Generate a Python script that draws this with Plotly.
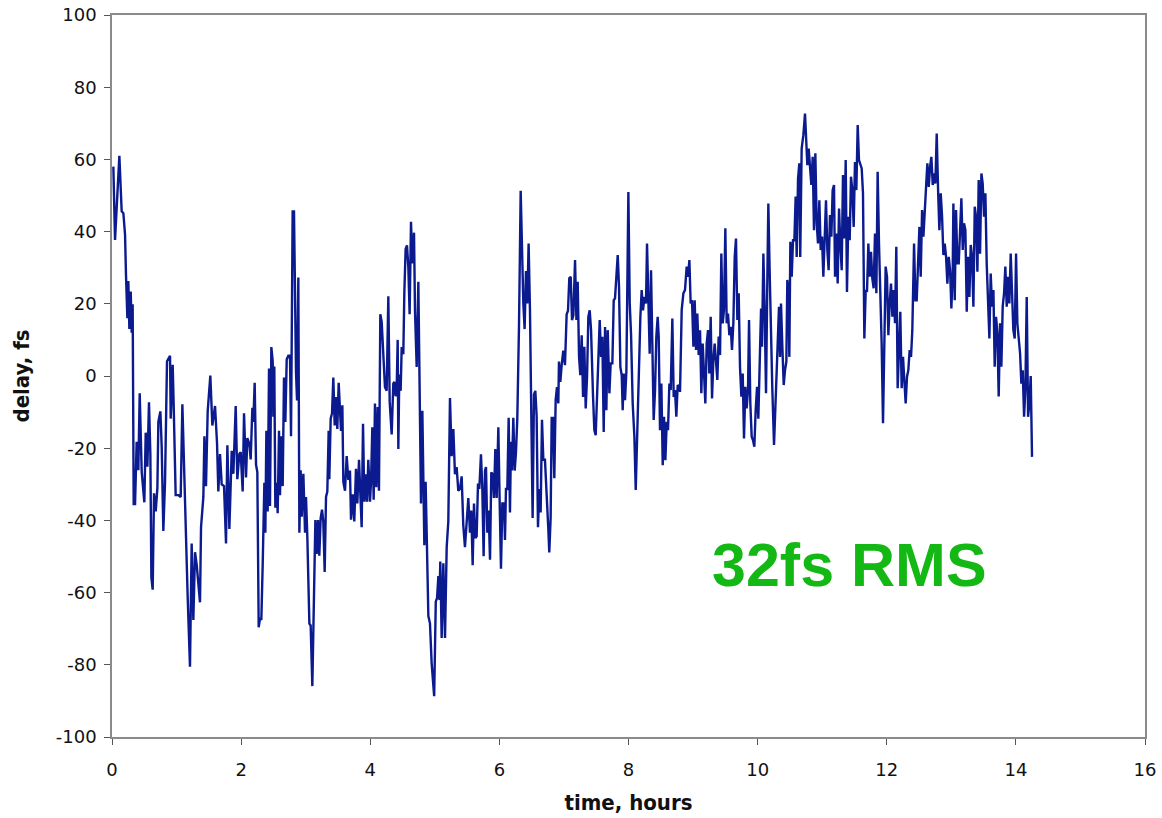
import plotly.graph_objects as go

time_h = [
 0.021,0.047,0.114,0.150,0.176,0.202,0.217,0.238,0.253,0.269,0.290,0.305,0.320,0.336,0.357,0.382,0.408,0.429,0.460,0.501,
 0.522,0.548,0.573,0.594,0.610,0.630,0.651,0.677,0.703,0.718,0.749,0.770,0.795,0.821,0.852,0.899,0.909,0.940,0.955,0.986,
 1.028,1.064,1.090,1.131,1.146,1.172,1.208,1.234,1.260,1.286,1.312,1.363,1.379,1.415,1.431,1.456,1.482,1.523,1.554,1.596,
 1.627,1.647,1.673,1.699,1.735,1.766,1.787,1.818,1.854,1.880,1.916,1.941,1.972,1.993,2.024,2.045,2.076,2.096,2.127,2.148,
 2.174,2.189,2.210,2.231,2.251,2.272,2.293,2.313,2.334,2.360,2.375,2.391,2.411,2.432,2.447,2.468,2.489,2.499,2.514,2.530,
 2.551,2.566,2.587,2.602,2.623,2.644,2.664,2.685,2.706,2.731,2.757,2.773,2.798,2.819,2.850,2.866,2.886,2.902,2.922,2.938,
 2.964,2.990,3.005,3.026,3.057,3.077,3.103,3.129,3.150,3.170,3.191,3.211,3.232,3.253,3.273,3.294,3.315,3.335,3.356,3.366,
 3.387,3.408,3.428,3.449,3.470,3.490,3.511,3.547,3.568,3.583,3.609,3.635,3.661,3.686,3.702,3.728,3.753,3.779,3.800,3.826,
 3.847,3.867,3.888,3.908,3.929,3.950,3.970,3.996,4.012,4.032,4.053,4.073,4.094,4.115,4.135,4.156,4.177,4.203,4.228,4.254,
 4.280,4.301,4.332,4.357,4.373,4.393,4.409,4.425,4.435,4.450,4.471,4.487,4.512,4.528,4.548,4.569,4.590,4.610,4.631,4.652,
 4.678,4.693,4.719,4.745,4.771,4.786,4.807,4.822,4.838,4.858,4.874,4.900,4.925,4.951,4.990,5.015,5.035,5.055,5.072,5.085,
 5.106,5.132,5.158,5.184,5.209,5.235,5.261,5.287,5.312,5.338,5.364,5.390,5.416,5.441,5.467,5.493,5.519,5.545,5.565,5.586,
 5.607,5.627,5.648,5.669,5.689,5.715,5.736,5.756,5.777,5.793,5.813,5.834,5.855,5.875,5.896,5.916,5.937,5.958,5.984,6.004,
 6.025,6.046,6.071,6.087,6.102,6.123,6.144,6.164,6.180,6.195,6.216,6.237,6.257,6.278,6.304,6.330,6.350,6.371,6.391,6.412,
 6.433,6.453,6.474,6.495,6.515,6.536,6.557,6.577,6.598,6.619,6.639,6.660,6.681,6.706,6.732,6.758,6.773,6.794,6.810,6.830,
 6.851,6.872,6.892,6.913,6.923,6.944,6.965,6.990,7.016,7.042,7.063,7.083,7.105,7.125,7.146,7.172,7.193,7.213,7.234,7.254,
 7.275,7.296,7.316,7.337,7.358,7.378,7.399,7.420,7.451,7.471,7.492,7.513,7.533,7.554,7.575,7.595,7.616,7.637,7.657,7.678,
 7.704,7.724,7.750,7.771,7.791,7.812,7.833,7.853,7.874,7.895,7.910,7.926,7.946,7.967,7.998,8.019,8.039,8.065,8.091,8.112,
 8.132,8.163,8.184,8.204,8.225,8.246,8.271,8.287,8.308,8.328,8.349,8.370,8.390,8.411,8.431,8.452,8.468,8.488,8.509,8.530,
 8.550,8.571,8.592,8.612,8.633,8.654,8.679,8.700,8.720,8.741,8.762,8.788,8.798,8.824,8.850,8.875,8.901,8.922,8.943,8.963,
 8.984,9.005,9.025,9.046,9.066,9.087,9.108,9.128,9.149,9.170,9.190,9.211,9.232,9.252,9.273,9.294,9.314,9.335,9.356,9.376,
 9.397,9.418,9.438,9.459,9.479,9.500,9.521,9.541,9.562,9.583,9.603,9.624,9.645,9.665,9.686,9.707,9.727,9.748,9.769,9.789,
 9.810,9.830,9.851,9.867,9.887,9.908,9.929,9.949,9.970,9.991,10.011,10.032,10.053,10.068,10.089,10.109,10.130,10.151,10.166,10.187,
 10.207,10.228,10.254,10.280,10.305,10.331,10.347,10.362,10.383,10.404,10.424,10.445,10.460,10.481,10.491,10.507,10.528,10.548,10.569,10.589,
 10.605,10.626,10.646,10.660,10.682,10.708,10.734,10.755,10.770,10.791,10.811,10.832,10.853,10.873,10.894,10.915,10.935,10.956,10.977,10.997,
 11.018,11.038,11.059,11.080,11.100,11.121,11.142,11.162,11.183,11.199,11.219,11.240,11.261,11.281,11.302,11.322,11.343,11.364,11.384,11.405,
 11.426,11.446,11.467,11.488,11.508,11.529,11.550,11.570,11.591,11.612,11.632,11.653,11.674,11.694,11.715,11.736,11.756,11.777,11.797,11.818,
 11.839,11.859,11.880,11.901,11.921,11.942,11.963,11.983,12.004,12.025,12.045,12.066,12.087,12.107,12.128,12.148,12.169,12.190,12.210,12.231,
 12.252,12.272,12.293,12.314,12.334,12.355,12.376,12.396,12.423,12.444,12.464,12.485,12.506,12.526,12.547,12.568,12.588,12.609,12.629,12.650,
 12.671,12.691,12.712,12.733,12.753,12.774,12.795,12.815,12.836,12.857,12.877,12.898,12.919,12.939,12.960,12.981,13.001,13.022,13.032,13.053,
 13.073,13.094,13.115,13.135,13.156,13.177,13.197,13.218,13.239,13.259,13.280,13.301,13.321,13.342,13.363,13.383,13.404,13.424,13.445,13.466,
 13.486,13.507,13.528,13.548,13.569,13.590,13.610,13.631,13.652,13.672,13.693,13.714,13.734,13.755,13.775,13.796,13.817,13.837,13.858,13.879,
 13.899,13.920,13.941,13.961,13.982,14.003,14.023,14.044,14.065,14.085,14.106,14.127,14.147,14.168,14.189,14.209,14.230,14.250,
]

delay_fs = [
 58.0,37.7,61.0,45.6,45.1,39.2,27.8,16.0,26.3,13.0,23.4,12.0,19.9,-35.5,-35.5,-18.2,-26.1,-4.8,-26.6,-35.0,
 -15.7,-25.1,-7.3,-21.6,-55.8,-59.2,-32.5,-37.5,-31.0,-12.7,-9.8,-19.7,-42.9,-29.6,4.1,5.6,-11.8,3.1,-7.8,-33.0,
 -33.0,-33.5,-7.8,-35.5,-47.4,-61.2,-80.5,-46.4,-67.6,-48.8,-52.3,-62.7,-41.9,-33.5,-16.7,-30.5,-9.8,0.1,-13.7,-8.3,
 -18.7,-32.0,-21.6,-30.0,-30.5,-46.4,-19.2,-42.4,-20.7,-27.1,-8.3,-28.6,-21.6,-21.1,-32.0,-10.3,-28.1,-17.2,-18.7,-23.1,
 -8.8,-12.7,-1.9,-24.6,-26.6,-69.6,-67.1,-67.6,-52.3,-29.6,-43.4,-15.2,-37.5,2.1,-36.0,8.0,4.1,-11.3,2.6,-36.5,
 -29.6,-38.0,-15.2,-33.0,-16.7,-30.5,-0.4,-12.7,4.6,5.6,5.6,-16.7,45.6,45.6,1.1,-6.8,27.3,-43.4,-26.1,-39.0,
 -27.1,-43.4,-33.5,-44.9,-68.6,-69.1,-85.9,-56.3,-39.9,-49.3,-39.9,-49.8,-39.4,-37.0,-40.4,-54.3,-33.5,-32.0,-15.2,-28.6,
 -11.8,-10.3,-0.4,-13.7,-5.8,-14.7,-1.9,-15.2,-8.1,-29.3,-31.8,-22.2,-28.8,-26.2,-39.8,-32.8,-40.3,-25.7,-35.3,-23.2,
 -31.3,-41.9,-13.2,-34.8,-27.2,-34.8,-23.2,-34.8,-29.3,-14.2,-34.3,-7.6,-30.8,-8.6,-31.8,17.1,15.0,6.5,-3.1,-4.1,
 22.1,-7.1,-16.2,-2.1,-1.6,-5.6,-3.6,10.0,-20.2,0.4,-4.1,8.0,6.0,23.1,35.2,36.2,30.2,17.1,42.7,31.2,
 39.7,18.1,2.5,26.1,-4.6,-35.3,-9.6,-35.8,-46.9,-29.3,-48.4,-66.5,-68.5,-79.6,-88.7,-62.5,-61.5,-55.4,-62.0,-51.4,
 -72.6,-51.9,-72.6,-47.4,-40.3,-6.1,-22.2,-14.7,-27.2,-25.2,-31.8,-31.3,-27.8,-41.3,-47.4,-39.3,-33.8,-43.4,-37.3,-52.4,
 -35.3,-44.9,-44.4,-29.8,-31.3,-21.7,-31.3,-49.9,-26.2,-25.2,-43.4,-37.3,-50.9,-26.7,-27.2,-33.8,-20.2,-33.8,-14.2,-34.3,
 -53.4,-35.3,-35.3,-45.4,-31.3,-31.3,-11.6,-37.8,-18.2,-26.2,-11.6,-26.2,-21.2,-11.6,14.0,51.3,35.2,20.1,13.0,29.1,
 20.1,36.7,18.1,-5.1,-39.3,-5.1,-4.1,-11.1,-41.9,-31.3,-37.8,-12.1,-23.2,-23.2,-31.3,-42.4,-48.9,-39.3,-11.6,-11.6,
 -28.3,-6.6,-3.1,-7.6,4.0,-1.6,3.0,7.0,3.0,17.1,18.1,27.1,27.5,15.5,16.8,32.1,15.5,26.1,5.3,0.2,
 11.3,-5.8,8.1,-9.0,-0.2,16.4,18.2,12.7,-5.8,-15.0,-16.4,-5.8,4.4,15.5,5.3,10.9,-15.5,13.6,-9.5,12.7,
 -4.8,3.5,3.5,21.0,21.5,26.6,33.5,24.7,2.5,0.2,-9.5,0.7,-6.7,1.2,51.0,20.1,11.8,-7.6,-16.8,-31.6,
 -16.8,3.5,16.4,23.8,18.2,21.9,20.1,36.7,21.0,6.2,29.3,3.5,-12.2,-3.9,10.9,16.4,10.9,-15.0,-2.1,-24.7,
 -11.3,-23.3,-12.7,-15.0,-2.1,-3.9,15.9,-5.8,-3.9,-11.3,-2.5,-3.0,-4.4,18.3,22.9,23.8,30.3,27.5,32.1,20.1,
 21.0,8.1,21.0,7.2,17.3,5.8,12.7,-4.8,9.0,0.7,-7.6,9.0,12.7,0.7,16.4,-6.2,4.4,9.0,3.5,-1.1,
 10.9,5.8,33.9,14.6,18.3,40.9,14.6,17.3,11.3,13.6,7.2,14.6,33.0,38.1,15.5,22.9,2.6,-5.7,0.7,-17.3,
 -3.0,-9.0,-3.9,15.5,-7.6,-16.8,-17.8,-19.6,-9.4,-3.0,-11.8,9.0,18.7,8.1,33.9,18.3,-4.8,27.5,47.8,28.4,
 8.1,-3.9,-19.1,-3.9,10.0,19.2,5.3,20.1,8.1,-2.5,1.6,4.0,26.6,21.9,5.3,37.2,27.5,37.6,37.6,49.7,
 33.0,54.7,58.9,33.0,63.0,66.7,72.7,65.4,58.4,63.0,57.5,52.9,60.7,40.4,61.7,42.3,36.7,48.7,34.9,38.6,
 27.5,37.6,48.7,34.9,29.3,44.6,38.6,51.5,52.9,27.5,39.5,25.6,46.4,36.7,29.3,55.7,38.1,59.8,23.3,44.1,
 37.6,55.2,51.5,41.3,59.3,51.5,69.5,59.8,58.9,57.5,50.6,10.4,23.8,23.3,36.7,27.5,34.4,27.0,24.3,39.5,
 22.9,56.6,36.7,24.7,9.0,-13.1,14.6,30.3,27.5,11.3,20.1,25.6,16.4,23.8,14.6,35.8,-3.4,5.3,17.8,-3.4,
 5.3,-1.1,-7.6,-0.2,1.6,7.2,5.3,12.7,36.7,21.0,21.0,31.2,41.3,27.5,46.0,38.6,46.9,52.4,58.9,52.4,
 57.9,60.7,52.9,56.1,53.3,67.2,51.5,40.4,50.6,44.1,33.5,36.7,33.0,25.6,33.0,29.3,18.7,29.3,47.8,21.0,
 46.0,31.2,31.2,39.5,49.2,34.9,42.3,40.4,17.8,33.0,21.9,36.3,33.0,19.2,46.9,44.1,28.9,54.3,33.9,56.1,
 53.3,44.1,50.6,31.2,21.9,10.4,28.4,19.2,23.8,2.6,16.4,11.8,-5.7,14.6,2.6,19.2,22.9,30.3,19.2,27.5,
 20.1,33.9,22.9,12.7,10.4,33.9,14.6,9.9,6.3,-2.1,1.6,-11.3,-3.9,21.9,-11.3,-7.6,0.0,-22.4,
]

x_ticks = [0, 2, 4, 6, 8, 10, 12, 14, 16]
y_ticks = [-100, -80, -60, -40, -20, 0, 20, 40, 60, 80, 100]
annotation_text = "32fs RMS"

fig = go.Figure()
fig.add_trace(go.Scatter(
    x=time_h, y=delay_fs, mode="lines",
    line=dict(color="#0b1a8e", width=2.4),
    showlegend=False,
))

axis_common = dict(
    showline=True, linecolor="#8a8a8a", linewidth=1.5, mirror=True,
    showgrid=False, zeroline=False,
    ticks="outside", ticklen=6, tickcolor="#555555", tickwidth=1,
    tickfont=dict(family="DejaVu Sans", size=18, color="#111111"),
    ticklabeloverflow="allow",
)

title_font = dict(family="DejaVu Sans Condensed, DejaVu Sans", size=22, color="#111111")

fig.update_xaxes(
    range=[0, 16], tickvals=x_ticks, ticktext=[str(v) for v in x_ticks],
    title=dict(text="<b>time, hours</b>", font=title_font, standoff=15),
    ticklabelstandoff=10,
    **axis_common,
)
fig.update_yaxes(
    range=[-100, 100], tickvals=y_ticks, ticktext=[str(v) for v in y_ticks],
    title=dict(text="<b>delay, fs</b>", font=title_font, standoff=20),
    ticklabelstandoff=4,
    **axis_common,
)

fig.add_annotation(
    x=11.43, y=-52.4, xref="x", yref="y",
    text="<b>" + annotation_text + "</b>", showarrow=False,
    font=dict(family="Liberation Sans, Arial", size=61, color="#14b814"),
)

fig.update_layout(
    width=1162, height=818,
    margin=dict(l=112, r=17, t=15, b=81, autoexpand=False),
    paper_bgcolor="white", plot_bgcolor="white",
)

fig.write_html("out.html")
